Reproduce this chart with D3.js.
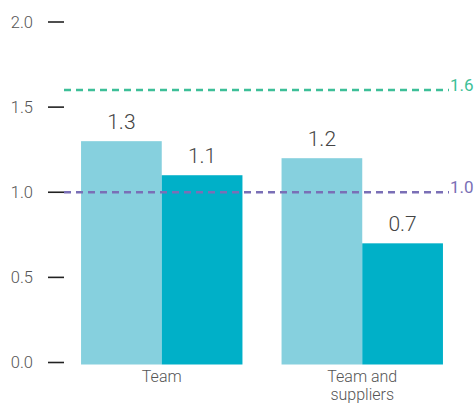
<!DOCTYPE html>
<html><head><meta charset="utf-8">
<script src="https://cdn.jsdelivr.net/npm/d3@7"></script>
<style>body{margin:0;background:#fff}svg{display:block}text{font-family:Roboto,"Liberation Sans",Arial,sans-serif;font-weight:300}</style>
</head><body>
<script>
const categories = ["Team", "Team and suppliers"];
const seriesLight = [1.3, 1.2];
const seriesDark = [1.1, 0.7];
const yTicks = [0, 0.5, 1.0, 1.5, 2.0];
const refValues = [1.6, 1.0];
const refColors = ["#3dbf98", "#7a6fb6"];

const W = 474, H = 403;
const svg = d3.select("body").append("svg").attr("width", W).attr("height", H);

const y = d3.scaleLinear().domain([0, 2]).range([362.5, 22]);
const x = d3.scaleBand().domain(categories).range([61.5, 462.5]).paddingInner(0.195).paddingOuter(0.0975);
const sub = d3.scaleBand().domain(["light", "dark"]).range([0, x.bandwidth()]);
const colors = {light: "#86d0de", dark: "#00b0c8"};

// y axis ticks
const yAxis = svg.append("g");
yAxis.selectAll("line").data(yTicks).join("line")
  .attr("x1", 48).attr("x2", 64).attr("y1", d => y(d)).attr("y2", d => y(d))
  .attr("stroke", "#222").attr("stroke-width", 1.6);
yAxis.selectAll("text").data(yTicks).join("text")
  .attr("x", 33).attr("y", d => y(d)).attr("dy", "0.36em")
  .attr("text-anchor", "end").attr("font-size", 16.5).attr("fill", "#555")
  .text(d => d3.format(".1f")(d));

// bars
const groups = svg.append("g").selectAll("g").data(categories).join("g")
  .attr("transform", d => `translate(${x(d)},0)`);
groups.each(function(c, i) {
  const g = d3.select(this);
  const vals = [{k: "light", v: seriesLight[i]}, {k: "dark", v: seriesDark[i]}];
  g.selectAll("rect").data(vals).join("rect")
    .attr("x", d => sub(d.k)).attr("width", sub.bandwidth())
    .attr("y", d => y(d.v)).attr("height", d => y(0) - y(d.v) + 2)
    .attr("fill", d => colors[d.k]);
  g.selectAll("text.val").data(vals).join("text").attr("class", "val")
    .attr("x", d => sub(d.k) + sub.bandwidth() / 2).attr("y", d => y(d.v) - 12)
    .attr("text-anchor", "middle").attr("font-size", 21).attr("fill", "#444")
    .text(d => d3.format(".1f")(d.v));
});

// reference lines
refValues.forEach((v, i) => {
  svg.append("line").attr("x1", 64).attr("x2", 449).attr("y1", y(v)).attr("y2", y(v))
    .attr("stroke", refColors[i]).attr("stroke-width", 2.5).attr("stroke-dasharray", "7,5");
  svg.append("text").attr("x", 450).attr("y", y(v) + 1).attr("font-size", 17)
    .style("font-weight", 400)
    .attr("fill", refColors[i]).text(d3.format(".1f")(v));
});

// category labels
const catG = svg.append("g");
categories.forEach(c => {
  const words = c === "Team and suppliers" ? ["Team and", "suppliers"] : [c];
  const t = catG.append("text").attr("x", x(c) + x.bandwidth() / 2).attr("y", 382)
    .attr("text-anchor", "middle").attr("font-size", 16).attr("fill", "#555");
  words.forEach((w, j) => t.append("tspan").attr("x", x(c) + x.bandwidth() / 2).attr("dy", j ? 17.5 : 0).text(w));
});
</script>
</body></html>
